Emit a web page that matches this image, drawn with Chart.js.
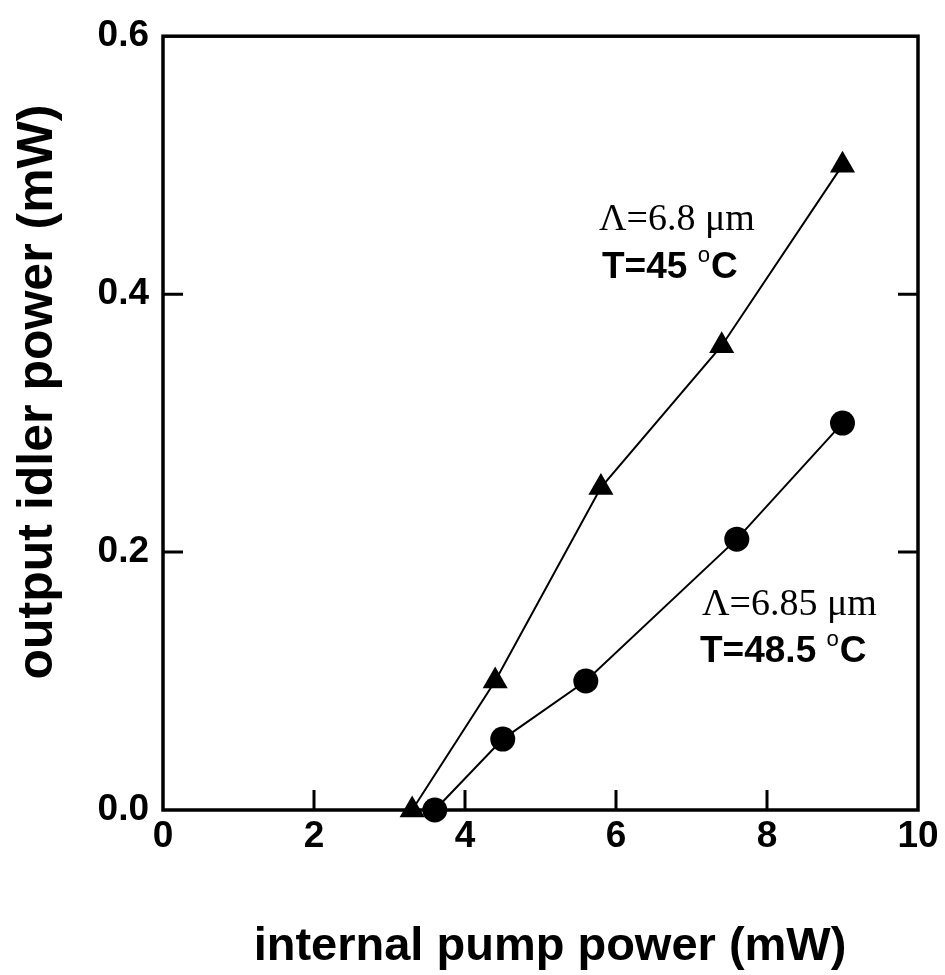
<!DOCTYPE html>
<html>
<head>
<meta charset="utf-8">
<script src="https://cdn.jsdelivr.net/npm/chart.js@4.4.1/dist/chart.umd.min.js"></script>
<style>
  html, body { margin: 0; padding: 0; background: #fff; }
  #wrap { width: 945px; height: 975px; }
</style>
</head>
<body>
<div id="wrap"><canvas id="idlerChart" width="945" height="975"></canvas></div>
<script>
// tick labels
const xTicks = [0, 2, 4, 6, 8, 10];
const yTicks = [0.0, 0.2, 0.4, 0.6];

// Λ=6.8 µm, T=45 °C (triangles)
const pumpA = [3.3, 4.4, 5.8, 7.4, 9.0];
const idlerA = [0.0, 0.1, 0.25, 0.36, 0.5];

// Λ=6.85 µm, T=48.5 °C (circles)
const pumpB = [3.6, 4.5, 5.6, 7.6, 9.0];
const idlerB = [0.0, 0.055, 0.1, 0.21, 0.3];

const sans = "'Liberation Sans', Arial, sans-serif";
const serif = "'Liberation Serif', 'Times New Roman', serif";

// box round the plot, with short ticks pointing inwards
const framePlugin = {
  id: "frame",
  beforeDatasetsDraw(chart) {
    const { ctx, chartArea: a, scales } = chart;
    ctx.save();
    ctx.strokeStyle = "#000";
    ctx.lineWidth = 3.5;
    ctx.strokeRect(a.left, a.top, a.right - a.left, a.bottom - a.top);
    ctx.lineWidth = 3;
    xTicks.slice(1, -1).forEach((v) => {
      const px = scales.x.getPixelForValue(v);
      ctx.beginPath();
      ctx.moveTo(px, a.bottom);
      ctx.lineTo(px, a.bottom - 20);
      ctx.stroke();
    });
    yTicks.slice(1, -1).forEach((v) => {
      const py = scales.y.getPixelForValue(v);
      ctx.beginPath();
      ctx.moveTo(a.left, py);
      ctx.lineTo(a.left + 20, py);
      ctx.moveTo(a.right, py);
      ctx.lineTo(a.right - 20, py);
      ctx.stroke();
    });
    ctx.restore();
  },
};

// axis titles and the two curve labels
function degreeLabel(ctx, x, y, before, size) {
  ctx.font = "bold " + size + "px " + sans;
  ctx.fillText(before, x, y);
  let w = ctx.measureText(before).width;
  ctx.font = (size * 0.6) + "px " + sans;
  ctx.fillText("o", x + w, y - size * 0.42);
  w += ctx.measureText("o").width + 1;
  ctx.font = "bold " + size + "px " + sans;
  ctx.fillText("C", x + w, y);
}

const textPlugin = {
  id: "texts",
  afterDraw(chart) {
    const { ctx } = chart;
    ctx.save();
    ctx.fillStyle = "#000";
    ctx.textBaseline = "alphabetic";

    ctx.textAlign = "center";
    ctx.font = "bold 47px " + sans;
    ctx.fillText("internal pump power (mW)", 550, 960);

    ctx.save();
    ctx.translate(52, 392);
    ctx.rotate(-Math.PI / 2);
    ctx.font = "bold 50px " + sans;
    ctx.fillText("output idler power (mW)", 0, 0);
    ctx.restore();

    ctx.textAlign = "left";
    ctx.font = "38px " + serif;
    ctx.fillText("Λ=6.8 μm", 599, 230);
    degreeLabel(ctx, 602, 278, "T=45 ", 37);

    ctx.font = "38px " + serif;
    ctx.fillText("Λ=6.85 μm", 702, 615);
    degreeLabel(ctx, 700, 662, "T=48.5 ", 37);
    ctx.restore();
  },
};

const ctx = document.getElementById("idlerChart").getContext("2d");
new Chart(ctx, {
  type: "scatter",
  data: {
    datasets: [
      {
        label: "Λ=6.8 μm",
        data: pumpA.map((x, i) => ({ x: x, y: idlerA[i] })),
        showLine: true,
        borderColor: "#000",
        borderWidth: 2,
        backgroundColor: "#000",
        pointStyle: "triangle",
        pointRadius: 14.5,
        pointBorderWidth: 0,
        clip: false,
      },
      {
        label: "Λ=6.85 μm",
        data: pumpB.map((x, i) => ({ x: x, y: idlerB[i] })),
        showLine: true,
        borderColor: "#000",
        borderWidth: 2,
        backgroundColor: "#000",
        pointStyle: "circle",
        pointRadius: 12.5,
        pointBorderWidth: 0,
        clip: false,
      },
    ],
  },
  options: {
    responsive: false,
    animation: false,
    devicePixelRatio: 1,
    layout: { padding: { top: 35, right: 27, left: 0, bottom: 0 } },
    plugins: {
      legend: { display: false },
      tooltip: { enabled: false },
    },
    scales: {
      x: {
        type: "linear",
        min: 0,
        max: 10,
        afterBuildTicks: (s) => { s.ticks = xTicks.map((v) => ({ value: v })); },
        afterFit: (s) => { s.height = 165; },
        ticks: {
          color: "#000",
          padding: 5,
          font: { family: sans, size: 37, weight: "bold" },
          callback: (v) => String(v),
        },
        grid: { display: false, drawTicks: false },
        border: { display: false },
      },
      y: {
        type: "linear",
        min: 0,
        max: 0.6,
        afterBuildTicks: (s) => { s.ticks = yTicks.map((v) => ({ value: v })); },
        afterFit: (s) => { s.width = 163; },
        ticks: {
          color: "#000",
          padding: 14,
          font: { family: sans, size: 37, weight: "bold" },
          callback: (v) => Number(v).toFixed(1),
        },
        grid: { display: false, drawTicks: false },
        border: { display: false },
      },
    },
  },
  plugins: [framePlugin, textPlugin],
});
</script>
</body>
</html>
